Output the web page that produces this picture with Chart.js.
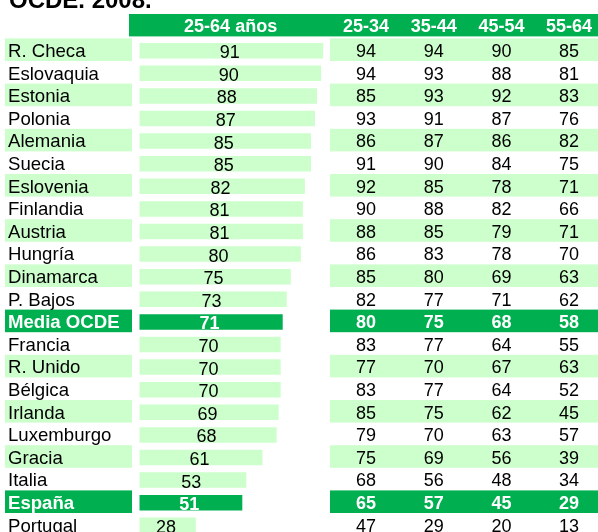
<!DOCTYPE html>
<html><head><meta charset="utf-8">
<style>
html,body{margin:0;padding:0;background:#fff;overflow:hidden;width:598px;height:532px}
#wrap{position:absolute;left:0;top:0;width:598px;height:540px}
</style>
<script src="https://cdn.jsdelivr.net/npm/chart.js@4.4.1/dist/chart.umd.min.js"></script>
</head><body><div id="wrap"><canvas id="c" width="598" height="540"></canvas></div>
<script>
const title = 'OCDE. 2008.';
const countries = ['R. Checa','Eslovaquia','Estonia','Polonia','Alemania','Suecia','Eslovenia','Finlandia','Austria','Hungría','Dinamarca','P. Bajos','Media OCDE','Francia','R. Unido','Bélgica','Irlanda','Luxemburgo','Gracia','Italia','España','Portugal'];
const total25_64 = [91,90,88,87,85,85,82,81,81,80,75,73,71,70,70,70,69,68,61,53,51,28];
const age25_34 = [94,94,85,93,86,91,92,90,88,86,85,82,80,83,77,83,85,79,75,68,65,47];
const age35_44 = [94,93,93,91,87,90,85,88,85,83,80,77,75,77,70,77,75,70,69,56,57,29];
const age45_54 = [90,88,92,87,86,84,78,82,79,78,69,71,68,64,67,64,62,63,56,48,45,20];
const age55_64 = [85,81,83,76,82,75,71,66,71,70,63,62,58,55,63,52,45,57,39,34,29,13];
const totalHeader = '25-64 años';
const columnHeaders = ['25-34','35-44','45-54','55-64'];
const highlighted = ['Media OCDE','España'];

const ageColumns = [age25_34, age35_44, age45_54, age55_64];
const LIGHT = '#CCFFCC', DARK = '#00B050';
const FONT = '"Liberation Sans", Arial, sans-serif';
const isHi = i => highlighted.includes(countries[i]);

const tablePlugin = {
  id: 'table',
  beforeDraw(chart) {
    const {ctx} = chart; const y = chart.scales.y, x2 = chart.scales.x2;
    const W = chart.width;
    ctx.save();
    ctx.fillStyle = '#fff'; ctx.fillRect(0, 0, W, chart.height);
    ctx.fillStyle = '#000'; ctx.font = 'bold 24px ' + FONT;
    ctx.textAlign = 'left'; ctx.textBaseline = 'alphabetic';
    ctx.fillText(title, 9, 8);
    ctx.fillStyle = DARK; ctx.fillRect(129, 14, W - 129, 22.4);
    ctx.fillStyle = '#fff'; ctx.font = 'bold 18px ' + FONT; ctx.textAlign = 'center';
    ctx.fillText(totalHeader, x2.getPixelForValue(-2), 32);
    columnHeaders.forEach((h, j) => ctx.fillText(h, x2.getPixelForValue(j), 32));
    countries.forEach((c, i) => {
      const hi = isHi(i);
      if (!hi && i % 2) return;
      const cy = y.getPixelForValue(i);
      ctx.fillStyle = hi ? DARK : LIGHT;
      ctx.fillRect(5, cy - 12.3, 127, 22.6);
      ctx.fillRect(330, cy - 12.3, W - 330, 22.6);
    });
    ctx.restore();
  },
  afterDatasetsDraw(chart) {
    const {ctx} = chart; const y = chart.scales.y, x2 = chart.scales.x2;
    const meta = chart.getDatasetMeta(0);
    ctx.save();
    ctx.textBaseline = 'alphabetic';
    countries.forEach((c, i) => {
      const hi = isHi(i);
      const cy = y.getPixelForValue(i);
      ctx.fillStyle = hi ? '#fff' : '#000';
      ctx.font = (hi ? 'bold ' : '') + '18.6px ' + FONT;
      ctx.textAlign = 'left';
      ctx.fillText(c, 8, cy + 6.3);
      ctx.font = (hi ? 'bold ' : '') + '18px ' + FONT;
      ctx.textAlign = 'center';
      ageColumns.forEach((col, j) => ctx.fillText(String(col[i]), x2.getPixelForValue(j), cy + 6.3));
      const bar = meta.data[i];
      ctx.fillText(String(total25_64[i]), (bar.x + bar.base) / 2 - 1.5, bar.y + 7.5);
    });
    ctx.restore();
  }
};

new Chart(document.getElementById('c'), {
  type: 'bar',
  data: {
    labels: countries,
    datasets: [{
      data: total25_64,
      backgroundColor: countries.map((c, i) => isHi(i) ? DARK : LIGHT),
      borderWidth: 0,
      barPercentage: 0.685,
      categoryPercentage: 1
    }]
  },
  options: {
    indexAxis: 'y',
    responsive: false,
    animation: false,
    devicePixelRatio: 1,
    layout: {padding: {left: 139.3, right: 0, top: 39.4, bottom: 3.4}},
    plugins: {legend: {display: false}, tooltip: {enabled: false}},
    scales: {
      x: {type: 'linear', min: 0, max: 227.1, display: false},
      x2: {type: 'linear', min: -3.349, max: 3.427, display: false, position: 'top'},
      y: {type: 'category', display: false, offset: true}
    }
  },
  plugins: [tablePlugin]
});
</script>
</body></html>
